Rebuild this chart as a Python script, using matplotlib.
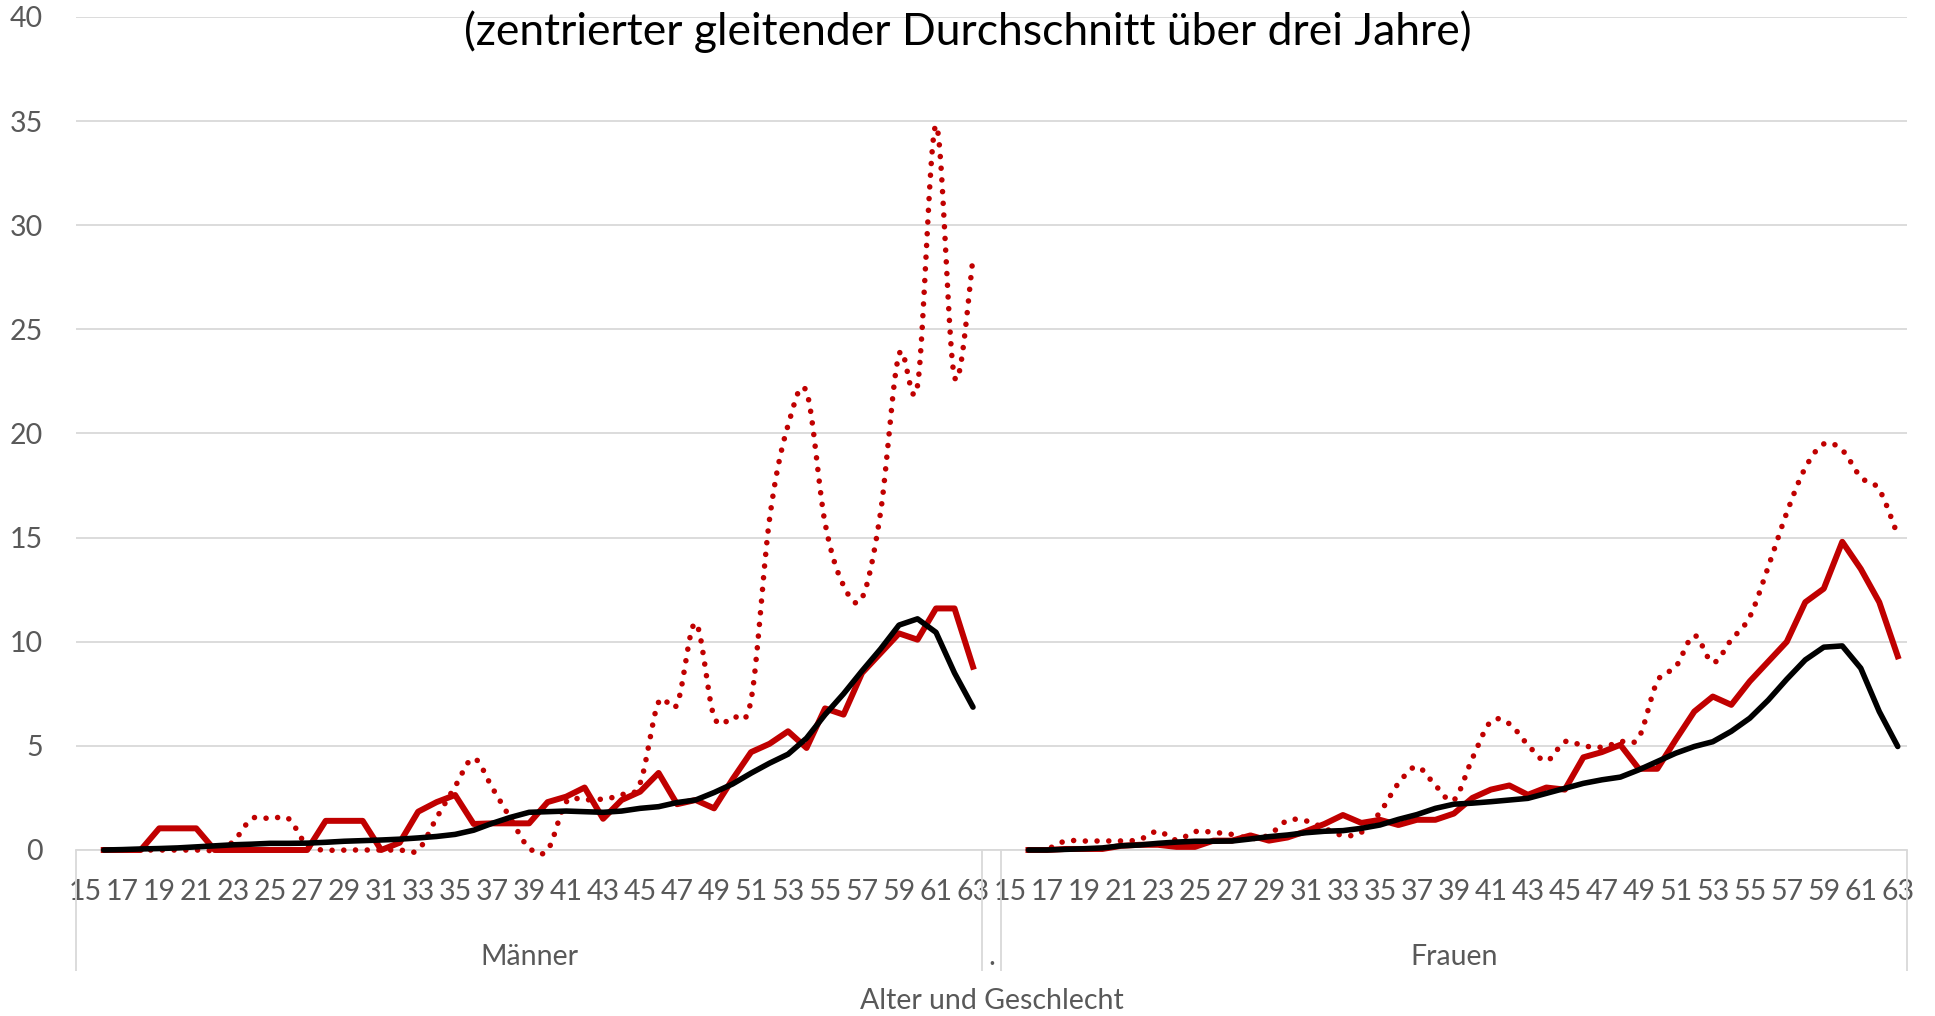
import numpy as np
import matplotlib.pyplot as plt

plt.rcParams['font.family'] = ['Lato', 'DejaVu Sans']

nan = np.nan

# Alter 15..63 je Geschlecht (erster Wert fehlt: zentrierter Durchschnitt)
alter = list(range(15, 64))
gruppen = ['Männer', '.', 'Frauen']

# Männer
m_punkt = [nan, 0, 0, 0, 0, 0, 0, 0, 0.4, 1.5, 1.5, 1.5, 0.2, 0, 0, 0, 0, 0, 0,
           1.55, 3.05, 4.4, 3.0, 1.5, 0.1, 0, 2.3, 2.4, 2.45, 2.65, 3.2, 7.1, 7.0,
           10.9, 6.4, 6.4, 7.2, 15.9, 20.4, 22.0, 15.7, 12.7, 12.1, 16.2, 23.8,
           22.3, 34.8, 22.7, 28.4]
m_rot = [nan, 0, 0, 0, 1.04, 1.04, 1.04, 0, 0, 0, 0, 0, 0, 1.4, 1.4, 1.4, 0, 0.35,
         1.84, 2.3, 2.64, 1.25, 1.28, 1.28, 1.28, 2.3, 2.56, 3.0, 1.5, 2.4, 2.8,
         3.7, 2.2, 2.4, 2.0, 3.4, 4.7, 5.1, 5.7, 4.9, 6.8, 6.5, 8.5, 9.45, 10.4,
         10.1, 11.6, 11.6, 8.8]
m_schwarz = [nan, 0, 0.02, 0.05, 0.07, 0.1, 0.15, 0.2, 0.25, 0.28, 0.32, 0.32,
             0.33, 0.37, 0.42, 0.45, 0.48, 0.52, 0.58, 0.65, 0.75, 0.95, 1.28,
             1.57, 1.81, 1.84, 1.87, 1.84, 1.81, 1.87, 2.0, 2.08, 2.28, 2.4, 2.76,
             3.17, 3.69, 4.17, 4.6, 5.37, 6.5, 7.5, 8.6, 9.65, 10.8, 11.1, 10.45,
             8.5, 6.86]

# Frauen
f_punkt = [nan, 0, 0.05, 0.43, 0.43, 0.43, 0.43, 0.5, 0.9, 0.48, 0.88, 0.85, 0.75,
           0.55, 0.72, 1.42, 1.4, 1.05, 0.7, 0.85, 1.8, 3.2, 4.0, 3.1, 2.4, 4.4,
           6.17, 6.06, 5.05, 4.28, 5.2, 5.0, 4.94, 5.2, 5.4, 8.1, 8.8, 10.3, 9.0,
           10.1, 11.2, 13.6, 16.2, 18.35, 19.5, 19.2, 17.9, 17.3, 15.1]
f_rot = [nan, 0, 0, 0.05, 0.05, 0.05, 0.2, 0.25, 0.25, 0.15, 0.15, 0.45, 0.45, 0.7,
         0.45, 0.6, 0.9, 1.25, 1.68, 1.3, 1.45, 1.2, 1.45, 1.45, 1.75, 2.5, 2.9,
         3.1, 2.65, 3.0, 2.9, 4.45, 4.7, 5.05, 3.9, 3.9, 5.3, 6.65, 7.37, 6.97,
         8.1, 9.05, 10.0, 11.9, 12.55, 14.8, 13.5, 11.9, 9.3]
f_schwarz = [nan, 0, 0, 0.03, 0.06, 0.1, 0.2, 0.24, 0.32, 0.38, 0.42, 0.42, 0.43,
             0.53, 0.64, 0.72, 0.83, 0.9, 0.93, 1.04, 1.2, 1.47, 1.7, 2.0, 2.2,
             2.25, 2.32, 2.4, 2.48, 2.72, 2.96, 3.2, 3.37, 3.5, 3.85, 4.25, 4.65,
             4.97, 5.2, 5.7, 6.33, 7.2, 8.2, 9.13, 9.74, 9.8, 8.73, 6.65, 4.97]

ROT = '#C00000'
GRAU = '#595959'
GITTER = '#D9D9D9'


def glatt(x, y, n=16):
    # geglaettete Linie wie in Excel (Bezier, Catmull-Rom)
    ok = ~np.isnan(y)
    p = np.column_stack([x[ok], y[ok]])
    out = [p[:1]]
    t = np.linspace(0, 1, n)[1:, None]
    for i in range(len(p) - 1):
        p0, p1, p2 = p[max(i - 1, 0)], p[i], p[i + 1]
        p3 = p[min(i + 2, len(p) - 1)]
        c1 = p1 + (p2 - p0) / 6
        c2 = p2 - (p3 - p1) / 6
        out.append((1 - t) ** 3 * p1 + 3 * (1 - t) ** 2 * t * c1
                   + 3 * (1 - t) * t ** 2 * c2 + t ** 3 * p2)
    return np.vstack(out)


fig = plt.figure(figsize=(19.35, 10.16), dpi=100)
ax = fig.add_axes([76 / 1935, 166 / 1016, 1831 / 1935, 833 / 1016])

n = len(alter)
x_m = np.arange(n)
x_f = np.arange(n) + n + 1

for xs, punkt, rot, schwarz in [(x_m, m_punkt, m_rot, m_schwarz),
                                (x_f, f_punkt, f_rot, f_schwarz)]:
    g = glatt(xs.astype(float), np.array(punkt, dtype=float))
    ax.plot(g[:, 0], g[:, 1], color=ROT, lw=4.0, linestyle=(0, (0.01, 2.1)),
            dash_capstyle='round', clip_on=False, zorder=3)
    ax.plot(xs, rot, color=ROT, lw=4.3, solid_joinstyle='round', clip_on=False, zorder=4)
    ax.plot(xs, schwarz, color='black', lw=4.0, solid_joinstyle='round',
            solid_capstyle='round', clip_on=False, zorder=5)

ax.set_ylim(0, 40)
ax.set_xlim(-0.5, 2 * n + 0.5)
ax.set_yticks(range(0, 41, 5))
pos = list(x_m[::2]) + list(x_f[::2])
lab = [str(a) for a in alter[::2]] * 2
ax.set_xticks(pos, lab)
ax.tick_params(axis='y', length=0, pad=24, labelsize=20.5, labelcolor=GRAU)
ax.tick_params(axis='x', length=0, pad=21, labelsize=20.5, labelcolor=GRAU)
ax.grid(axis='y', color=GITTER, lw=1.3, zorder=0)
for s in ['top', 'left', 'right']:
    ax.spines[s].set_visible(False)
ax.spines['bottom'].set_color(GITTER)
ax.spines['bottom'].set_linewidth(1.3)

# Gruppenachse (Geschlecht)
trans = ax.get_xaxis_transform()
grenzen = [-0.5, n - 0.5, n + 0.5, 2 * n + 0.5]
ax.vlines(grenzen, -0.145, 0, transform=trans, color=GITTER, lw=1.3, clip_on=False)
mitten = [(n - 1) / 2, n, n + 1 + (n - 1) / 2]
for m, g in zip(mitten, gruppen):
    ax.text(m, -0.128, g, transform=trans, ha='center', va='center',
            fontsize=20.5, color=GRAU)
ax.text(n, -0.181, 'Alter und Geschlecht', transform=trans, ha='center',
        va='center', fontsize=20.5, color=GRAU)

fig.text(0.5, 1 - 32 / 1016, '(zentrierter gleitender Durchschnitt über drei Jahre)',
         ha='center', va='center', fontsize=32, color='black')

fig.savefig('out.png', dpi=100)
